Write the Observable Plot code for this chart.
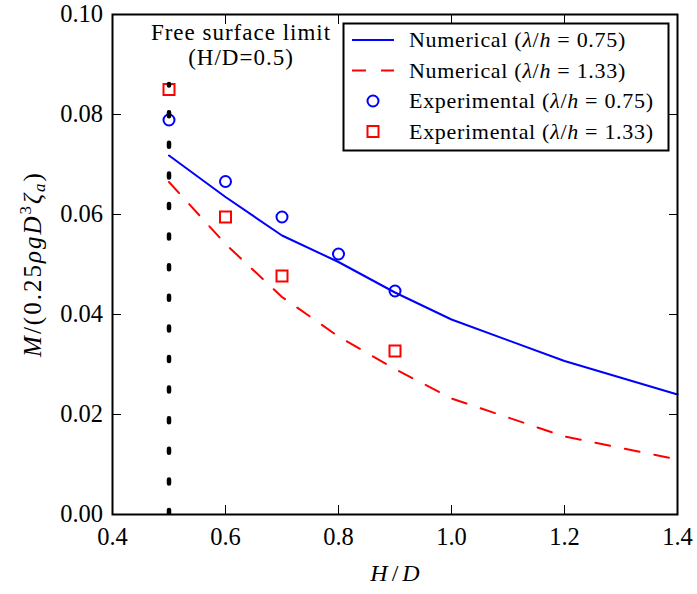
<!DOCTYPE html>
<html>
<head>
<meta charset="utf-8">
<script src="https://cdn.jsdelivr.net/npm/d3@7"></script>
<script src="https://cdn.jsdelivr.net/npm/@observablehq/plot@0.6"></script>
<style>
  html, body { margin: 0; padding: 0; background: white; }
  svg text, svg tspan { font-family: "Liberation Serif", serif !important; }
</style>
</head>
<body>
<div id="chart"></div>
<script>
// ---- data ----
const xNum = [0.5, 0.6, 0.7, 0.8, 0.9, 1.0, 1.2, 1.4];
const num075 = [0.0718, 0.0635, 0.0558, 0.0505, 0.0444, 0.0390, 0.0307, 0.0240];
const num133 = [0.0665, 0.0541, 0.0435, 0.0356, 0.0291, 0.0232, 0.0156, 0.0110];

const expX075 = [0.5, 0.6, 0.7, 0.8, 0.9];
const exp075 = [0.0789, 0.0666, 0.0595, 0.0521, 0.0447];
const expX133 = [0.5, 0.6, 0.7, 0.9];
const exp133 = [0.0850, 0.0595, 0.0477, 0.0327];

const xTicks = [0.4, 0.6, 0.8, 1.0, 1.2, 1.4];
const yTicks = [0.00, 0.02, 0.04, 0.06, 0.08, 0.10];
const xDomain = [0.4, 1.4];
const yDomain = [0, 0.1];

const limitX = 0.5;
const limitTop = 0.086;
const annotation = "Free surface limit\n(H/D=0.5)";

const legendItems = [
  {label: "Numerical", val: "0.75", kind: "line", color: "#0000ff"},
  {label: "Numerical", val: "1.33", kind: "dash", color: "#ff0000"},
  {label: "Experimental", val: "0.75", kind: "circle", color: "#0000ff"},
  {label: "Experimental", val: "1.33", kind: "square", color: "#ff0000"}
];

// ---- tables ----
const tab075 = xNum.map((x, i) => ({x, y: num075[i]}));
const tab133 = xNum.map((x, i) => ({x, y: num133[i]}));
const etab075 = expX075.map((x, i) => ({x, y: exp075[i]}));
const etab133 = expX133.map((x, i) => ({x, y: exp133[i]}));

const FONT = "Liberation Serif";
const TICK = 9;

const svg = Plot.plot({
  width: 697,
  height: 594,
  marginLeft: 112,
  marginRight: 20,
  marginTop: 14,
  marginBottom: 80,
  style: {fontFamily: FONT, fontSize: "21px", background: "white", color: "black"},
  x: {domain: xDomain, label: null},
  y: {domain: yDomain, label: null},
  marks: [
    // inward ticks
    Plot.axisX({anchor: "bottom", ticks: xTicks, tickSize: TICK, dy: -TICK, tickFormat: () => "", label: null}),
    Plot.axisX({anchor: "top", ticks: xTicks, tickSize: TICK, dy: TICK, tickFormat: () => "", label: null}),
    Plot.axisY({anchor: "left", ticks: yTicks, tickSize: TICK, dx: TICK, tickFormat: () => "", label: null}),
    Plot.axisY({anchor: "right", ticks: yTicks, tickSize: TICK, dx: -TICK, tickFormat: () => "", label: null}),
    // labels
    Plot.axisX({anchor: "bottom", ticks: xTicks, tickSize: 0, tickPadding: 13, tickFormat: d3.format(".1f"), fontSize: 24.5, label: null}),
    Plot.axisY({anchor: "left", ticks: yTicks, tickSize: 0, tickPadding: 9.5, tickFormat: d3.format(".2f"), fontSize: 24.5, label: null}),
    // annotation
    Plot.text([annotation], {x: () => limitX, y: () => yDomain[1], text: d => d, lineAnchor: "top", dx: 72, dy: 7.5, fontSize: 23, lineHeight: 1.09, fill: "black"}),
    // series
    Plot.line(tab075, {x: "x", y: "y", stroke: "#0000ff", strokeWidth: 2}),
    Plot.line(tab133, {x: "x", y: "y", stroke: "#ff0000", strokeWidth: 2, strokeDasharray: "15,15"}),
    Plot.dot(etab075, {x: "x", y: "y", r: 5.5, stroke: "#0000ff", strokeWidth: 2, fill: "none"}),
    Plot.dot(etab133, {x: "x", y: "y", symbol: "square", r: 6.2, stroke: "#ff0000", strokeWidth: 2, fill: "none"}),
    // free surface limit
    Plot.ruleX([limitX], {x: d => d, y1: () => yDomain[0], y2: () => limitTop, stroke: "black", strokeWidth: 4.5, strokeDasharray: "4,26.6", strokeLinecap: "round", clip: true}),
    Plot.frame({stroke: "black", strokeWidth: 2})
  ]
});

document.getElementById("chart").appendChild(svg);

const s = d3.select(svg);
// letter spacing on the annotation to mimic the wider Computer Modern face
s.selectAll("text").filter(function () { return this.textContent.includes("Free surface"); })
  .attr("letter-spacing", 1);

// ---- axis titles with math italics ----
const ylab = s.append("text")
  .attr("transform", "translate(41,264) rotate(-90)")
  .attr("text-anchor", "middle")
  .attr("font-size", 25)
  .attr("letter-spacing", 2)
  .attr("fill", "black");
ylab.append("tspan").attr("font-style", "italic").text("M");
ylab.append("tspan").text("/(0.25");
ylab.append("tspan").attr("font-style", "italic").text("ρgD");
ylab.append("tspan").attr("font-size", 17).attr("dy", -10).text("3");
ylab.append("tspan").attr("font-style", "italic").attr("dy", 10).text("ζ");
ylab.append("tspan").attr("font-style", "italic").attr("font-size", 17).attr("dy", 4).text("a");
ylab.append("tspan").attr("dy", -4).text(")");

const xlab = s.append("text")
  .attr("x", 395).attr("y", 581)
  .attr("text-anchor", "middle")
  .attr("font-size", 24)
  .attr("fill", "black");
xlab.append("tspan").attr("font-style", "italic").text("H");
xlab.append("tspan").attr("dx", 4).text("/");
xlab.append("tspan").attr("dx", 4).attr("font-style", "italic").text("D");

// ---- legend ----
const lg = s.append("g").attr("font-size", 22).attr("text-anchor", "start").attr("letter-spacing", 0.7);
lg.append("rect").attr("x", 343.5).attr("y", 23.5).attr("width", 325).attr("height", 127)
  .attr("fill", "white").attr("stroke", "black").attr("stroke-width", 2);
const rowY = [40, 70.5, 101, 131.5];
legendItems.forEach((it, i) => {
  const y = rowY[i];
  if (it.kind === "line" || it.kind === "dash") {
    lg.append("line").attr("x1", 352).attr("x2", 394).attr("y1", y).attr("y2", y)
      .attr("stroke", it.color).attr("stroke-width", 2)
      .attr("stroke-dasharray", it.kind === "dash" ? "14,15" : null);
  } else if (it.kind === "circle") {
    lg.append("circle").attr("cx", 373).attr("cy", y).attr("r", 5.5)
      .attr("fill", "none").attr("stroke", it.color).attr("stroke-width", 2);
  } else {
    lg.append("rect").attr("x", 373 - 5.5).attr("y", y - 5.5).attr("width", 11).attr("height", 11)
      .attr("fill", "none").attr("stroke", it.color).attr("stroke-width", 2);
  }
  const t = lg.append("text").attr("x", 409).attr("y", y + 7).attr("fill", "black").attr("text-anchor", "start");
  t.append("tspan").text(it.label + " (");
  t.append("tspan").attr("font-style", "italic").text("λ");
  t.append("tspan").text("/");
  t.append("tspan").attr("font-style", "italic").text("h");
  t.append("tspan").text(" = " + it.val + ")");
});
</script>
</body>
</html>
